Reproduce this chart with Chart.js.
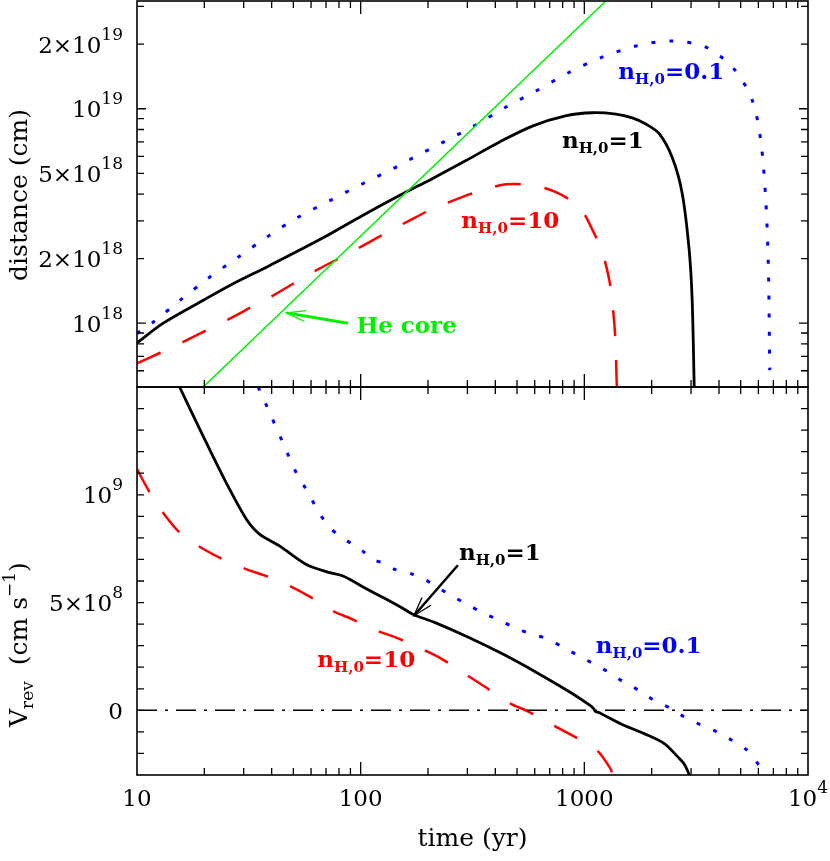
<!DOCTYPE html>
<html><head><meta charset="utf-8">
<script src="https://cdn.jsdelivr.net/npm/chart.js@4.4.1/dist/chart.umd.min.js"></script>
<style>
html,body{margin:0;padding:0;background:#fff;}
#wrap{position:relative;width:830px;height:861px;background:#fff;}
canvas{position:absolute;left:0;top:0;}
</style></head><body>
<div id="wrap"><canvas id="cTop" width="830" height="861"></canvas><canvas id="cBot" width="830" height="861"></canvas></div>
<script>
// ---------- axis ranges ----------
const xMin = 10, xMax = 1e4;
const distMin = 5.04e17, distMax = 3.18e19;
const velMin = -3e8, velMax = 1.5e9;

// ---------- top panel: distance (cm) ----------
const tDist1 = [10, 13.1, 19.8, 26, 39.3, 67.9, 102, 149, 209, 297, 418, 586, 832, 1086, 1384, 1637, 1884, 2162, 2472, 2739, 2943, 3035, 3100];
const dist1  = [8.1e17, 1.0e18, 1.28e18, 1.5e18, 1.86e18, 2.5e18, 3.18e18, 3.94e18, 4.72e18, 5.75e18, 7.0e18, 8.3e18, 9.28e18, 9.58e18, 9.44e18, 9.07e18, 8.49e18, 7.65e18, 5.92e18, 4.03e18, 2.19e18, 1.28e18, 5.0e17];

const tDist01 = [10, 11.8, 15.6, 20.8, 28.3, 38.5, 52.5, 72.8, 102, 142, 168, 233, 323, 440, 608, 857, 1186, 1698, 2436, 3491, 4677, 5640, 6150, 6475, 6650, 6745];
const dist01  = [8.96e17, 1.01e18, 1.28e18, 1.62e18, 2.03e18, 2.54e18, 3.12e18, 3.73e18, 4.47e18, 5.3e18, 5.84e18, 6.97e18, 8.34e18, 1.01e19, 1.21e19, 1.48e19, 1.73e19, 1.96e19, 2.07e19, 1.94e19, 1.53e19, 1.09e19, 7.1e18, 3.74e18, 1.83e18, 6.04e17];

const tDist10 = [10, 12.7, 16.1, 20.5, 26, 32.5, 41.3, 51.6, 65.6, 83.4, 104, 132, 165, 209, 271, 345, 447, 588, 747, 950, 1090, 1208, 1294, 1340, 1375, 1394, 1400];
const dist10  = [6.5e17, 7.28e17, 8.18e17, 9.27e17, 1.05e18, 1.19e18, 1.36e18, 1.56e18, 1.8e18, 2.05e18, 2.32e18, 2.66e18, 3.01e18, 3.41e18, 3.8e18, 4.16e18, 4.44e18, 4.39e18, 4.08e18, 3.48e18, 2.71e18, 2.11e18, 1.58e18, 1.19e18, 8.6e17, 5.4e17, 5.0e17];

const tCore = [10, 2000];
const distCore = [2.55e17, 5.1e19];

// ---------- bottom panel: V_rev (cm/s) ----------
const tVel1 = [15.5, 19.8, 25.1, 30.9, 35.4, 43.5, 57.2, 72.7, 83.4, 107, 126, 152, 171, 214, 303, 430, 608, 861, 1060, 1100, 1120, 1160, 1452, 1850, 2278, 2619, 2800, 2950];
const vel1  = [1.5e9, 1.27e9, 1.054e9, 8.85e8, 8.16e8, 7.62e8, 6.77e8, 6.39e8, 6.23e8, 5.62e8, 5.23e8, 4.77e8, 4.46e8, 4.08e8, 3.39e8, 2.62e8, 1.77e8, 8.5e7, 2.3e7, 8e6, -5e6, -1.0e7, -6.2e7, -1.08e8, -1.54e8, -2.16e8, -2.5e8, -3.0e8];

const tVel01 = [34.8, 37.3, 39.9, 45, 51.6, 56, 60.8, 66, 72.3, 81, 91, 102, 113, 125, 142, 171, 193, 222, 255, 298, 349, 415, 485, 577, 687, 804, 940, 1099, 1284, 1501, 1757, 2052, 2443, 2806, 3340, 3909, 4565, 5335, 6100];
const vel01  = [1.5e9, 1.431e9, 1.362e9, 1.239e9, 1.1e9, 1.039e9, 9.73e8, 9.08e8, 8.51e8, 8.06e8, 7.74e8, 7.39e8, 7.0e8, 6.85e8, 6.54e8, 6.31e8, 6.08e8, 5.69e8, 5.31e8, 4.93e8, 4.54e8, 4.19e8, 3.85e8, 3.54e8, 3.31e8, 2.92e8, 2.54e8, 2.16e8, 1.77e8, 1.31e8, 9.2e7, 4.6e7, 8e6, -3.1e7, -6.9e7, -1.0e8, -1.39e8, -1.85e8, -2.6e8];

const tVel10 = [10, 11.4, 13.1, 15.6, 19.4, 24.3, 30.9, 38.5, 48.2, 60.3, 74, 93, 116, 146, 187, 230, 293, 361, 453, 568, 723, 907, 1137, 1306, 1340];
const vel10  = [1.119e9, 1.011e9, 9.16e8, 8.23e8, 7.54e8, 7.0e8, 6.54e8, 6.2e8, 5.77e8, 5.23e8, 4.64e8, 4.2e8, 3.73e8, 3.35e8, 2.85e8, 2.39e8, 1.69e8, 1.08e8, 3.8e7, -8e6, -6.9e7, -1.23e8, -1.85e8, -2.69e8, -3.0e8];

const tZero = [10, 1e4];
const velZero = [0, 0];

// ---------- tick labels ----------
const xTickValues = [10, 100, 1000, 10000];
const xTickLabels = [["10", ""], ["100", ""], ["1000", ""], ["10", "4"]];
const distTickValues = [1e18, 2e18, 5e18, 1e19, 2e19];
const distTickLabels = [["10", "18"], ["2×10", "18"], ["5×10", "18"], ["10", "19"], ["2×10", "19"]];
const velTickValues = [0, 5e8, 1e9];
const velTickLabels = [["0", ""], ["5×10", "8"], ["10", "9"]];

// ---------- annotations (data coordinates) ----------
const seriesNames  = ["1", "0.1", "10"];
const seriesColors = ["#000000", "#0000ff", "#ff0000"];
const topLabelT = [794, 1419, 282];
const topLabelD = [6.59e18, 1.379e19, 2.77e18];
const botLabelT = [275, 1125, 64];
const botLabelV = [6.97e8, 2.68e8, 1.99e8];
const coreLabelT = 95.7, coreLabelD = 8.98e17;
const coreArrowT = [87.7, 46.6], coreArrowD = [1.0e18, 1.117e18];
const velArrowT = [272, 173], velArrowV = [6.73e8, 4.39e8];

const GREEN = "#00f000";
const TICK_FONT = '23px "DejaVu Serif"', TICK_SUP = '17px "DejaVu Serif"';
const LAB_FONT = 'bold 23px "DejaVu Serif"', LAB_SUB = 'bold 15px "DejaVu Serif"';
const TITLE_FONT = '25px "DejaVu Serif"', TITLE_SMALL = '17px "DejaVu Serif"';

function pts(ts, vs) { return ts.map((t, i) => ({x: t, y: vs[i]})); }
function lineDS(ts, vs, color, width, dash, tension) {
  return {data: pts(ts, vs), borderColor: color, borderWidth: width, borderDash: dash || [],
    pointRadius: 0, fill: false, cubicInterpolationMode: 'default', tension: tension || 0, clip: 0,
    borderJoinStyle: 'round'};
}

function drawRich(ctx, x, y, segs, align) {
  let w = 0;
  for (const s of segs) { ctx.font = s[1]; w += ctx.measureText(s[0]).width; }
  let cx = align === 'right' ? x - w : (align === 'center' ? x - w / 2 : x);
  ctx.textAlign = 'left'; ctx.textBaseline = 'alphabetic';
  for (const s of segs) { ctx.font = s[1]; ctx.fillText(s[0], cx, y + (s[2] || 0)); cx += ctx.measureText(s[0]).width; }
}

function frameAndTicks(chart, yTicks) {
  const ctx = chart.ctx, a = chart.chartArea, xs = chart.scales.x, ys = chart.scales.y;
  ctx.save();
  ctx.strokeStyle = '#000'; ctx.lineWidth = 1.3; ctx.beginPath();
  for (let d = 10; d < xMax; d *= 10) {
    for (let k = 1; k < 10; k++) {
      const v = k * d; if (v <= xMin || v >= xMax) continue;
      const px = xs.getPixelForValue(v);
      const L = k === 1 ? 13 : 7;
      ctx.moveTo(px, a.bottom); ctx.lineTo(px, a.bottom - L);
      ctx.moveTo(px, a.top); ctx.lineTo(px, a.top + L);
    }
  }
  for (const [v, L] of yTicks) {
    const py = ys.getPixelForValue(v);
    ctx.moveTo(a.left, py); ctx.lineTo(a.left + L, py);
    ctx.moveTo(a.right, py); ctx.lineTo(a.right - L, py);
  }
  ctx.stroke();
  ctx.lineWidth = 1.6;
  ctx.strokeRect(a.left, a.top, a.right - a.left, a.bottom - a.top);
  ctx.restore();
}

function yLabels(chart, values, labels) {
  const ctx = chart.ctx, a = chart.chartArea, ys = chart.scales.y;
  ctx.save(); ctx.fillStyle = '#000';
  values.forEach((v, i) => {
    const py = ys.getPixelForValue(v);
    const L = labels[i];
    const segs = [[L[0], TICK_FONT, 0]];
    if (L[1]) segs.push([L[1], TICK_SUP, -13]);
    drawRich(ctx, a.left - 14, py + 8.5, segs, 'right');
  });
  ctx.restore();
}

function nLabel(ctx, x, y, val, color) {
  ctx.fillStyle = color;
  drawRich(ctx, x, y, [['n', LAB_FONT, 0], ['H,0', LAB_SUB, 5], ['=' + val, LAB_FONT, 0]], 'left');
}

function arrow(ctx, x0, y0, x1, y1, color, w, head, spread) {
  ctx.strokeStyle = color; ctx.lineWidth = w; ctx.lineCap = 'butt';
  ctx.beginPath(); ctx.moveTo(x0, y0); ctx.lineTo(x1, y1); ctx.stroke();
  const ang = Math.atan2(y1 - y0, x1 - x0);
  ctx.lineWidth = 1.3;
  ctx.beginPath();
  ctx.moveTo(x1 - head * Math.cos(ang - spread), y1 - head * Math.sin(ang - spread));
  ctx.lineTo(x1, y1);
  ctx.lineTo(x1 - head * Math.cos(ang + spread), y1 - head * Math.sin(ang + spread));
  ctx.stroke();
}

// y ticks lists
const distTicks = [];
for (let e = 17; e <= 19; e++) for (let k = 1; k < 10; k++) {
  const v = k * Math.pow(10, e);
  if (v > distMin && v < distMax) distTicks.push([v, k === 1 ? 9 : 7]);
}
const velTicks = [];
for (let k = -2; k <= 14; k++) velTicks.push([k * 1e8, 7]);

const topDeco = {
  id: 'topDeco',
  afterDatasetsDraw(chart) {
    const ctx = chart.ctx, xs = chart.scales.x, ys = chart.scales.y;
    frameAndTicks(chart, distTicks);
    yLabels(chart, distTickValues, distTickLabels);
    ctx.save();
    seriesNames.forEach((n, i) => nLabel(ctx, xs.getPixelForValue(topLabelT[i]), ys.getPixelForValue(topLabelD[i]), n, seriesColors[i]));
    ctx.fillStyle = GREEN;
    drawRich(ctx, xs.getPixelForValue(coreLabelT), ys.getPixelForValue(coreLabelD), [['He core', 'bold 23px "DejaVu Serif"', 0]], 'left');
    arrow(ctx, xs.getPixelForValue(coreArrowT[0]), ys.getPixelForValue(coreArrowD[0]),
          xs.getPixelForValue(coreArrowT[1]), ys.getPixelForValue(coreArrowD[1]), GREEN, 3, 20, 0.28);
    ctx.fillStyle = '#000';
    ctx.translate(27, 195); ctx.rotate(-Math.PI / 2);
    drawRich(ctx, 0, 0, [['distance (cm)', TITLE_FONT, 0]], 'center');
    ctx.restore();
  }
};

const botDeco = {
  id: 'botDeco',
  afterDatasetsDraw(chart) {
    const ctx = chart.ctx, a = chart.chartArea, xs = chart.scales.x, ys = chart.scales.y;
    frameAndTicks(chart, velTicks);
    yLabels(chart, velTickValues, velTickLabels);
    ctx.save();
    ctx.fillStyle = '#000';
    xTickValues.forEach((v, i) => {
      const L = xTickLabels[i];
      const segs = [[L[0], TICK_FONT, 0]];
      if (L[1]) segs.push([L[1], TICK_SUP, -13]);
      drawRich(ctx, xs.getPixelForValue(v), 806, segs, 'center');
    });
    drawRich(ctx, (a.left + a.right) / 2, 846, [['time (yr)', TITLE_FONT, 0]], 'center');
    seriesNames.forEach((n, i) => nLabel(ctx, xs.getPixelForValue(botLabelT[i]), ys.getPixelForValue(botLabelV[i]), n, seriesColors[i]));
    arrow(ctx, xs.getPixelForValue(velArrowT[0]), ys.getPixelForValue(velArrowV[0]),
          xs.getPixelForValue(velArrowT[1]), ys.getPixelForValue(velArrowV[1]), '#000', 2.5, 20, 0.3);
    ctx.fillStyle = '#000';
    ctx.translate(27, 727); ctx.rotate(-Math.PI / 2);
    drawRich(ctx, 0, 0, [['V', TITLE_FONT, 0], ['rev', TITLE_SMALL, 6], ['  (cm s', TITLE_FONT, 0], ['−1', TITLE_SMALL, -12], [')', TITLE_FONT, 0]], 'left');
    ctx.restore();
  }
};

const xScale = {type: 'logarithmic', min: xMin, max: xMax, display: false};

new Chart(document.getElementById('cTop'), {
  type: 'line',
  data: {datasets: [
    lineDS(tCore, distCore, GREEN, 1.5, [], 0),
    lineDS(tDist01, dist01, '#0000ff', 3, [4, 14], 0.3),
    lineDS(tDist10, dist10, '#ff0000', 2.5, [26, 24], 0.3),
    lineDS(tDist1, dist1, '#000000', 2.8, [], 0.3)
  ]},
  options: {
    responsive: false, animation: false, events: [],
    layout: {padding: {left: 137, right: 22, top: 1, bottom: 861 - 387}},
    scales: {x: xScale, y: {type: 'logarithmic', min: distMin, max: distMax, display: false}},
    plugins: {legend: {display: false}, tooltip: {enabled: false}}
  },
  plugins: [topDeco]
});

new Chart(document.getElementById('cBot'), {
  type: 'line',
  data: {datasets: [
    lineDS(tZero, velZero, '#000000', 1.5, [20, 8, 3, 8], 0),
    lineDS(tVel01, vel01, '#0000ff', 3, [4, 14], 0.3),
    lineDS(tVel10, vel10, '#ff0000', 2.5, [26, 24], 0.3),
    lineDS(tVel1, vel1, '#000000', 2.8, [], 0.3)
  ]},
  options: {
    responsive: false, animation: false, events: [],
    layout: {padding: {left: 137, right: 22, top: 387, bottom: 861 - 775}},
    scales: {x: Object.assign({}, xScale), y: {type: 'linear', min: velMin, max: velMax, display: false}},
    plugins: {legend: {display: false}, tooltip: {enabled: false}}
  },
  plugins: [botDeco]
});
</script>
</body></html>
